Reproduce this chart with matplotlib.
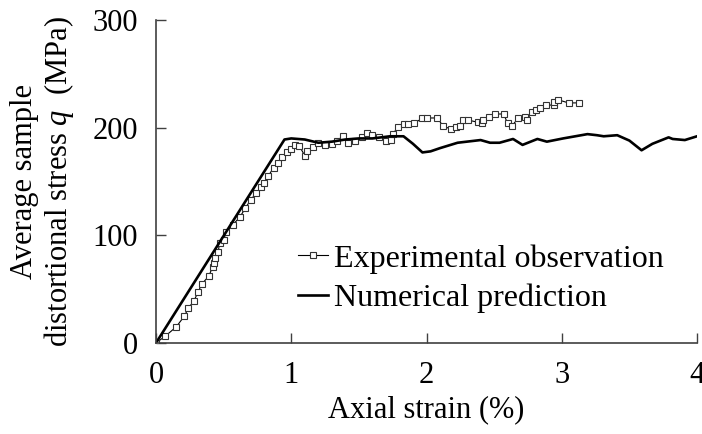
import matplotlib
matplotlib.use("Agg")
import matplotlib.pyplot as plt

plt.rcParams['font.family'] = 'Liberation Serif'
plt.rcParams['mathtext.fontset'] = 'custom'
plt.rcParams['mathtext.rm'] = 'Liberation Serif'
plt.rcParams['mathtext.it'] = 'Liberation Serif:italic'

# Experimental observation (axial strain %, q MPa)
exp_strain = [0, 0.07, 0.15, 0.21, 0.24, 0.28, 0.31, 0.34, 0.39, 0.42,
              0.43, 0.44, 0.46, 0.47, 0.50, 0.52, 0.57, 0.62, 0.66, 0.70,
              0.74, 0.78, 0.80, 0.83, 0.87, 0.90, 0.93, 0.97, 1.00, 1.03,
              1.06, 1.10, 1.12, 1.16, 1.20, 1.25, 1.30, 1.34, 1.38, 1.42,
              1.47, 1.52, 1.56, 1.60, 1.65, 1.70, 1.74, 1.75, 1.79, 1.83,
              1.86, 1.91, 1.97, 2.00, 2.08, 2.12, 2.18, 2.22, 2.25, 2.27,
              2.31, 2.38, 2.41, 2.42, 2.46, 2.51, 2.57, 2.60, 2.63, 2.68,
              2.73, 2.74, 2.78, 2.81, 2.84, 2.88, 2.94, 2.94, 2.97, 3.05,
              3.13]
exp_q = [0, 6.5, 15, 25, 32.5, 39, 47, 55, 62, 71,
         74, 79, 84.5, 93, 96, 103, 110, 117, 125, 133,
         139, 145, 149, 155, 163, 167, 173, 177, 180, 184,
         183, 174, 178, 182, 186, 184, 185, 188, 192, 186,
         188, 191, 195, 193, 191, 188, 188.5, 194, 200.6, 203,
         203, 204, 209, 209, 209, 202, 198.5, 200.6, 202, 207,
         207, 205, 204, 207, 210, 212.7, 212.7, 204, 201.5, 209,
         210, 207, 214.5, 216, 218, 221, 221, 224, 226, 223,
         223]

# Numerical prediction
num_strain = [0, 0.95, 1.0, 1.1, 1.2, 1.3, 1.4, 1.5, 1.6, 1.73,
              1.83, 1.9, 1.97, 2.03, 2.10, 2.23, 2.40, 2.47, 2.54, 2.64,
              2.71, 2.82, 2.89, 3.01, 3.10, 3.19, 3.26, 3.31, 3.41, 3.50,
              3.59, 3.67, 3.79, 3.82, 3.91, 4.0]
num_q = [0, 189, 190, 189, 186, 187, 189, 190, 190, 192,
         192, 185, 177, 178, 181, 186, 188.5, 186, 186, 189.5,
         184, 189.5, 187, 190, 192, 194, 193, 192, 193, 188,
         179, 185, 191, 189.5, 188.5, 192]

fig = plt.figure(figsize=(7.02, 4.34), dpi=100)
ax = fig.add_axes([0.2222, 0.2097, 0.7707, 0.7442])

ax.plot(exp_strain, exp_q, color='black', lw=0.8, marker='s', ms=5,
        mfc='white', mec='#333333', mew=0.8, label='Experimental observation')
ax.plot(num_strain, num_q, color='black', lw=1.9, label='Numerical prediction')

ax.set_xlim(0, 4)
ax.set_ylim(0, 300)
ax.set_xticks([0, 1, 2, 3, 4])
ax.set_yticks([0, 100, 200, 300])

for s in ['top', 'right']:
    ax.spines[s].set_visible(False)
for s in ['left', 'bottom']:
    ax.spines[s].set_color('#404040')
    ax.spines[s].set_linewidth(1.2)

ax.tick_params(direction='in', length=7, width=1.0, color='#404040',
               labelsize=22, pad=13)

ax.set_xlabel('Axial strain (%)', fontsize=22, labelpad=4)
ax.set_ylabel('Average sample\ndistortional stress $\\it{q}$  (MPa)',
              fontsize=22, labelpad=12, linespacing=1.1)

ax.legend(loc='center left', bbox_to_anchor=(0.262, 0.2), frameon=False,
          fontsize=23, handlelength=0.95, handletextpad=0.2, borderpad=0,
          borderaxespad=0, labelspacing=0.3)

fig.savefig('out.png', dpi=100)
